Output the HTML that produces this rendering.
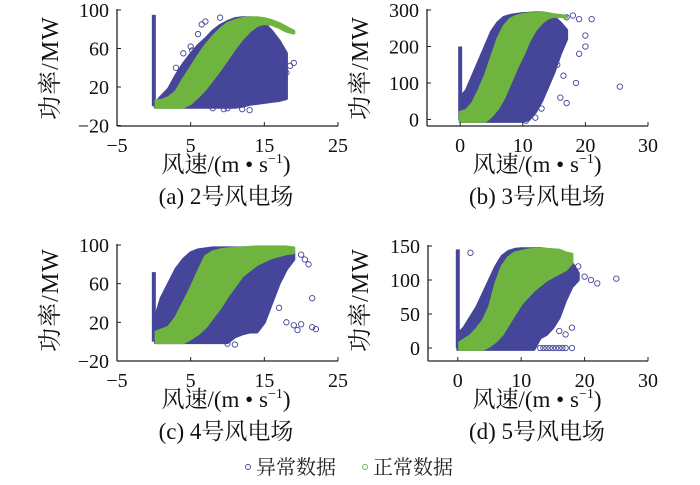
<!DOCTYPE html>
<html><head><meta charset="utf-8"><style>
html,body{margin:0;padding:0;background:#fff;}
svg{display:block;font-family:"Liberation Serif","Noto Serif CJK SC",serif;}
</style></head><body>
<svg id="chart" width="700" height="485" viewBox="0 0 700 485" xmlns="http://www.w3.org/2000/svg">
<g>
<circle cx="248" cy="467" r="2.5" fill="none" stroke="#45459a" stroke-width="0.9"/>
<text x="256" y="474" font-size="20" fill="#222">异常数据</text>
<circle cx="365" cy="467" r="2.5" fill="none" stroke="#6fb43f" stroke-width="0.9"/>
<text x="373" y="474" font-size="20" fill="#222">正常数据</text>
</g>
</svg>
<script>
// ---- Panel (a) 2号风电场 ----
const aNormWS   = [0.3,1,2,3,4,5,6,7,8,9,10,11,12,13,14,15,16,17,18,19];
const aNormHigh = [6,6,9,15,28,40,52,63,72,80,86,89,91,92,92,91,89,86,82,78];
const aNormLow  = [-1,-1,-1,-1,-1,3,10,18,28,38,49,60,70,78,84,86,85,82,78,76];
const aAbnWS    = [0.2,1,2,3,4,5,6,7,8,9,10,11,12,13,14,15,16,17,18];
const aAbnHigh  = [3,10,18,32,44,54,63,70,78,84,88,91,92,92,90,86,78,68,55];
const aAbnLow   = [-1,-1,-1,-1,-1,-1,-1,-1,-1,-1,-1,-1,0,2,3,4,5,6,8];
const aSpikeMax = 95;
const aOutWS = [3,4,5,5.2,6,6.5,7,9,10,12,14,15,16,16.5,17,17.5,18,18.5,19,8,9.5,13,15.5];
const aOutP  = [40,55,62,58,75,85,88,92,-2,-3,65,60,55,50,40,38,35,42,45,-2,-3,-4,52];

// ---- Panel (b) 3号风电场 ----
const bNormWS   = [0,1,2,3,4,5,6,7,8,9,10,11,12,13,14,15,16,17];
const bNormHigh = [20,25,45,80,120,170,220,255,275,283,287,290,290,291,290,287,285,283];
const bNormLow  = [-5,-5,-5,-5,-5,10,30,60,100,140,175,215,245,265,278,283,282,280];
const bAbnWS    = [0,1,2,3,4,5,6,7,8,9,10,11,12,13,14,15,16,17];
const bAbnHigh  = [60,80,120,160,200,240,265,280,285,288,290,291,292,292,290,280,265,245];
const bAbnLow   = [-5,-5,-5,-5,-5,-5,-5,-5,-5,-5,-5,0,20,50,90,130,180,220];
const bSpikeMax = 200;
const bOutWS = [17,18,19,20,21,25.5,16,17,18.5,15.5,16.5,19,20,10.5,12,13];
const bOutP  = [280,285,275,230,275,90,60,45,100,150,120,180,200,-3,5,30];

// ---- Panel (c) 4号风电场 ----
const cNormWS   = [0.3,1,2,3,4,5,6,7,8,9,10,12,14,16,18,19];
const cNormHigh = [10,12,15,25,40,55,72,88,93,95,96,97,98,98,98,97];
const cNormLow  = [-1,-1,-1,-1,-1,3,8,15,25,35,47,68,80,87,91,92];
const cAbnWS    = [0.2,1,2,3,4,5,6,7,8,9,10,11,12,13,14,15,16,17,18,19];
const cAbnHigh  = [25,45,60,75,85,92,95,96,97,97,97,97,97,97,97,96,96,95,94,92];
const cAbnLow   = [-1,-1,-1,-1,-1,-1,-1,-1,-1,-1,-1,5,8,10,10,20,40,60,75,85];
const cSpikeMax = 72;
const cOutWS = [20,20.5,21,21.5,22,19,20,21.5,15,16,17,10,11,18,19.5];
const cOutP  = [90,85,80,15,13,17,18,45,60,55,35,-2,-3,20,12];

// ---- Panel (d) 5号风电场 ----
const dNormWS   = [0.3,1,2,3,4,5,6,7,8,9,10,11,12,14,16,17,18];
const dNormHigh = [8,12,18,28,40,60,95,120,133,140,142,144,145,145,144,140,138];
const dNormLow  = [-2,-2,-2,-2,-2,3,10,20,35,50,65,75,85,100,110,115,125];
const dAbnWS    = [0,1,2,3,4,5,6,7,8,9,10,11,12,13,14,15,16,17,18,19];
const dAbnHigh  = [20,30,45,60,80,100,120,135,142,145,146,146,146,146,145,144,140,135,125,110];
const dAbnLow   = [-2,-2,-2,-2,-2,-2,-2,-2,-2,-2,-2,-2,-2,15,20,30,45,70,90,100];
const dSpikeMax = 145;
const dOutWS = [2,19,20,21,22,25,18,16,17,13,14,15,16,17,18,13.5,14.5,15.5,16.5];
const dOutP  = [140,120,105,100,95,102,30,25,20,0,0,0,0,0,0,0,0,0,0];

const BLUE = "#45459a", GREEN = "#6fb43f";
const svg = document.getElementById('chart');
const NS = "http://www.w3.org/2000/svg";

function el(tag, attrs, parent){
  const e = document.createElementNS(NS, tag);
  for (const k in attrs) e.setAttribute(k, attrs[k]);
  (parent||svg).appendChild(e);
  return e;
}

function panel(cfg){
  const g = el('g', {});
  
  
  const sx = v => cfg.x0 + (v - cfg.xMin) * (cfg.x1 - cfg.x0) / (cfg.xMax - cfg.xMin);
  const sy = v => cfg.y0 - (v - cfg.yMin) * (cfg.y0 - cfg.y1) / (cfg.yMax - cfg.yMin);

  let pts = cfg.abnWS.map((w,i)=>sx(w)+','+sy(cfg.abnHigh[i]));
  pts = pts.concat(cfg.abnWS.slice().reverse().map((w,i,arr)=>sx(w)+','+sy(cfg.abnLow[arr.length-1-i])));
  const ab = el('polygon', {points: pts.join(' '), fill: BLUE, stroke: BLUE, 'stroke-width': 3, 'stroke-linejoin':'round'}, g);
  
  

  const sp = el('line', {x1: sx(0), x2: sx(0), y1: sy(0), y2: sy(cfg.spikeMax), stroke: BLUE, 'stroke-width': 4}, g);
  
  

  cfg.outWS.forEach((w,i)=>{
    const c = el('circle', {cx: sx(w), cy: sy(cfg.outP[i]), r: 2.7, fill: 'none', stroke: BLUE, 'stroke-width': 0.9}, g);
    
    
  });

  let np = cfg.normWS.map((w,i)=>sx(w)+','+sy(cfg.normHigh[i]));
  np = np.concat(cfg.normWS.slice().reverse().map((w,i,arr)=>sx(w)+','+sy(cfg.normLow[arr.length-1-i])));
  const nb = el('polygon', {points: np.join(' '), fill: GREEN, stroke: GREEN, 'stroke-width': 3, 'stroke-linejoin':'round'}, g);
  
  

  const yAxisBottom = cfg.axisY;
  const ya = el('line', {x1: cfg.x0, x2: cfg.x0, y1: cfg.y1 - 1, y2: yAxisBottom, stroke: '#222', 'stroke-width': 1.3}, g);
  
  
  const xa = el('line', {x1: cfg.x0, x2: cfg.x1, y1: yAxisBottom, y2: yAxisBottom, stroke: '#222', 'stroke-width': 1.3}, g);
  
  

  cfg.yTicks.forEach(t=>{
    const y = sy(t);
    el('line', {x1: cfg.x0, x2: cfg.x0 + 4, y1: y, y2: y, stroke: '#222', 'stroke-width': 1}, g);
    const tx = el('text', {x: cfg.x0 - 8, y: y + 7, 'font-size': 20, 'text-anchor': 'end', fill: '#111'}, g);
    
    
    tx.textContent = t < 0 ? '\u2212' + Math.abs(t) : String(t);
  });
  cfg.xTicks.forEach(t=>{
    const x = sx(t);
    el('line', {x1: x, x2: x, y1: yAxisBottom, y2: yAxisBottom - 4, stroke: '#222', 'stroke-width': 1}, g);
    const tx = el('text', {x: x, y: yAxisBottom + 26, 'font-size': 20, 'text-anchor': 'middle', fill: '#111'}, g);
    
    
    tx.textContent = t < 0 ? '\u2212' + Math.abs(t) : String(t);
  });

  const yt = el('text', {x: 0, y: 0, 'font-size': 24, 'text-anchor': 'middle', fill: '#111', 'letter-spacing': 1,
    transform: 'translate(' + cfg.yTitleX + ',' + cfg.yTitleY + ') rotate(-90)'}, g);
  
  
  yt.textContent = '功率/MW';

  const xt = el('text', {x: cfg.xTitleX, y: yAxisBottom + 46, 'font-size': 23, 'text-anchor': 'middle', fill: '#111'}, g);
  
  
  xt.innerHTML = '风速/(m • s<tspan dy="-9" font-size="14">−1</tspan><tspan dy="9">)</tspan>';

  const cp = el('text', {x: cfg.xTitleX, y: yAxisBottom + 78, 'font-size': 23, 'text-anchor': 'middle', fill: '#111'}, g);
  
  
  cp.textContent = cfg.caption;
}

panel({id:'a', x0:117, x1:338, xMin:-5, xMax:25, y0:125.5, y1:10, yMin:-20, yMax:100, axisY:126,
  xTicks:[-5,5,15,25], yTicks:[-20,20,60,100], yTitleX:58, yTitleY:68, xTitleX:226, caption:'(a)  2号风电场',
  normWS:aNormWS, normHigh:aNormHigh, normLow:aNormLow, abnWS:aAbnWS, abnHigh:aAbnHigh, abnLow:aAbnLow,
  spikeMax:aSpikeMax, outWS:aOutWS, outP:aOutP});
panel({id:'b', x0:427, x1:648, xMin:-5.3, xMax:30, y0:119.5, y1:10, yMin:0, yMax:300, axisY:126,
  xTicks:[0,10,20,30], yTicks:[0,100,200,300], yTitleX:368, yTitleY:68, xTitleX:537, caption:'(b)  3号风电场',
  normWS:bNormWS, normHigh:bNormHigh, normLow:bNormLow, abnWS:bAbnWS, abnHigh:bAbnHigh, abnLow:bAbnLow,
  spikeMax:bSpikeMax, outWS:bOutWS, outP:bOutP});
panel({id:'c', x0:117, x1:338, xMin:-5, xMax:25, y0:361, y1:245, yMin:-20, yMax:100, axisY:361,
  xTicks:[-5,5,15,25], yTicks:[-20,20,60,100], yTitleX:58, yTitleY:300, xTitleX:226, caption:'(c)  4号风电场',
  normWS:cNormWS, normHigh:cNormHigh, normLow:cNormLow, abnWS:cAbnWS, abnHigh:cAbnHigh, abnLow:cAbnLow,
  spikeMax:cSpikeMax, outWS:cOutWS, outP:cOutP});
panel({id:'d', x0:428, x1:648, xMin:-4.7, xMax:30, y0:348, y1:246, yMin:0, yMax:150, axisY:361,
  xTicks:[0,10,20,30], yTicks:[0,50,100,150], yTitleX:368, yTitleY:300, xTitleX:537, caption:'(d)  5号风电场',
  normWS:dNormWS, normHigh:dNormHigh, normLow:dNormLow, abnWS:dAbnWS, abnHigh:dAbnHigh, abnLow:dAbnLow,
  spikeMax:dSpikeMax, outWS:dOutWS, outP:dOutP});
</script>
</body></html>
